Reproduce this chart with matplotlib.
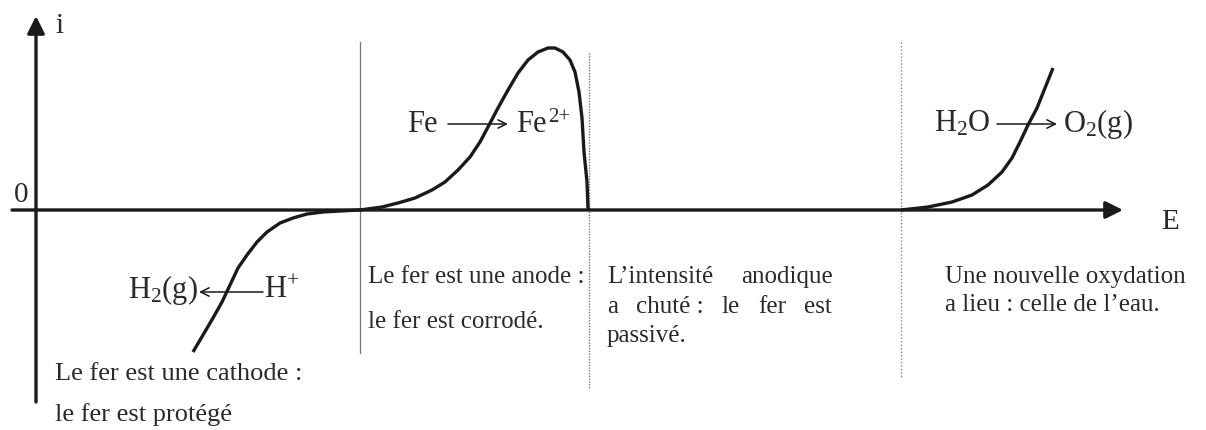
import matplotlib
matplotlib.use("Agg")
import matplotlib.pyplot as plt

# ─── courbe intensité-potentiel du fer (unités arbitraires) ──────────────────

# branche cathodique : réduction de H+
E_cath = [193, 203, 213, 222, 230, 238, 247, 257, 267, 280, 293, 307, 323, 340, 360]
i_cath = [-142, -125, -108, -92, -75, -58, -45, -32, -22, -13, -8, -4, -2, -1, 0]

# branche anodique : oxydation du fer puis passivation
E_fe = [360, 382, 398, 415, 432, 445, 458, 470, 480, 488, 498, 508, 518, 528,
        538, 548, 555, 563, 570, 575, 579, 582, 584, 587, 588, 589]
i_fe = [0, 3, 7, 12, 20, 28, 40, 53, 68, 83, 102, 120, 137, 150,
        158, 162, 162, 158, 150, 138, 118, 92, 58, 28, 2, 0]

# oxydation de l'eau
E_eau = [901, 928, 952, 972, 988, 1002, 1012, 1020, 1028, 1037, 1045, 1053]
i_eau = [0, 3, 8, 15, 25, 38, 52, 68, 85, 102, 122, 142]

# limites des domaines
E_limites = [360, 589, 901]

# ─── style ───────────────────────────────────────────────────────────────────

plt.rcParams["font.family"] = ["Liberation Serif", "DejaVu Serif"]
plt.rcParams["mathtext.fontset"] = "custom"
plt.rcParams["mathtext.rm"] = "Liberation Serif"
plt.rcParams["mathtext.it"] = "Liberation Serif:italic"

INK = "#1a1a1a"
TXT = "#2a2a2a"
BODY = 18
REAC = 22

fig = plt.figure(figsize=(12.06, 4.30), dpi=100)
ax = fig.add_axes([0, 0, 1, 1])
ax.set_xlim(0, 1206)
ax.set_ylim(-220, 210)
ax.axis("off")


def justified(ax, words, x0, x1, y, **kw):
    """Pose les mots d'une ligne entre x0 et x1 avec espacement égal."""
    r = ax.figure.canvas.get_renderer()
    inv = ax.transData.inverted()
    texts = [ax.text(0, y, w, **kw) for w in words]
    widths = []
    for t in texts:
        bb = t.get_window_extent(r)
        (a, _), (b, _) = inv.transform([[bb.x0, bb.y0], [bb.x1, bb.y1]])
        widths.append(b - a)
    gap = (x1 - x0 - sum(widths)) / max(len(words) - 1, 1)
    x = x0
    for t, w in zip(texts, widths):
        t.set_x(x)
        x += w + gap


# axes avec flèches
axis_arrow = dict(arrowstyle="-|>", lw=2.4, color=INK, mutation_scale=26,
                  shrinkA=0, shrinkB=0)
ax.annotate("", xy=(1123, 0), xytext=(12, 0), arrowprops=axis_arrow)
ax.annotate("", xy=(36, 194), xytext=(36, -192), arrowprops=axis_arrow)
ax.text(55, 177, "i", fontsize=21, color=TXT, va="baseline")
ax.text(14, 8, "0", fontsize=21, color=TXT, va="baseline")
ax.text(1161, -19, "E", fontsize=21, color=TXT, va="baseline")

# limites des domaines
ax.plot([E_limites[0]] * 2, [168, -143], color="#777777", lw=0.9)
ax.plot([E_limites[1]] * 2, [157, -178], color="#777777", lw=1.0, ls=(0, (1, 1)))
ax.plot([E_limites[2]] * 2, [168, -168], color="#888888", lw=1.0, ls=(0, (1, 1.5)))

# courbe i = f(E)
for E, i in [(E_cath, i_cath), (E_fe, i_fe), (E_eau, i_eau)]:
    ax.plot(E, i, color=INK, lw=2.4, solid_capstyle="butt", solid_joinstyle="round")

# couples rédox
reac_arrow = dict(arrowstyle="->,head_length=0.5,head_width=0.25", lw=1.1,
                  color=INK, mutation_scale=12, shrinkA=0, shrinkB=0)
ax.text(407, 78, "Fe", fontsize=REAC, color=TXT, va="baseline")
ax.annotate("", xy=(508, 86), xytext=(448, 86), arrowprops=reac_arrow)
ax.text(516, 78, "Fe", fontsize=REAC, color=TXT, va="baseline")
ax.text(548, 88, "2+", fontsize=15, color=TXT, va="baseline")

ax.text(128, -88, r"H$_{\mathrm{2}}$(g)", fontsize=REAC, color=TXT, va="baseline")
ax.annotate("", xy=(199, -82), xytext=(263, -82), arrowprops=reac_arrow)
ax.text(264, -88, r"H$^{\mathrm{+}}$", fontsize=REAC, color=TXT, va="baseline")

ax.text(934, 78, r"H$_{\mathrm{2}}$O", fontsize=REAC, color=TXT, va="baseline")
ax.annotate("", xy=(1057, 86), xytext=(997, 86), arrowprops=reac_arrow)
ax.text(1063, 78, r"O$_{\mathrm{2}}$(g)", fontsize=REAC, color=TXT, va="baseline")

# commentaires sous l'axe
ax.text(55, -170, "Le fer est une cathode :", fontsize=19, color=TXT, va="baseline")
ax.text(55, -211, "le fer est protégé", fontsize=19, color=TXT, va="baseline")

ax.text(368, -73, "Le fer est une anode :", fontsize=BODY, color=TXT, va="baseline")
ax.text(368, -118, "le fer est corrodé.", fontsize=BODY, color=TXT, va="baseline")

justified(ax, ["L’intensité", "anodique"], 607, 833, -73,
          fontsize=BODY, color=TXT, va="baseline")
justified(ax, ["a", "chuté :", "le", "fer", "est"], 607, 832, -103,
          fontsize=BODY, color=TXT, va="baseline")
ax.text(607, -132, "passivé.", fontsize=BODY, color=TXT, va="baseline")

ax.text(945, -73, "Une nouvelle oxydation", fontsize=BODY, color=TXT, va="baseline")
ax.text(945, -101, "a lieu : celle de l’eau.", fontsize=BODY, color=TXT, va="baseline")

fig.savefig("out.png", dpi=100)
